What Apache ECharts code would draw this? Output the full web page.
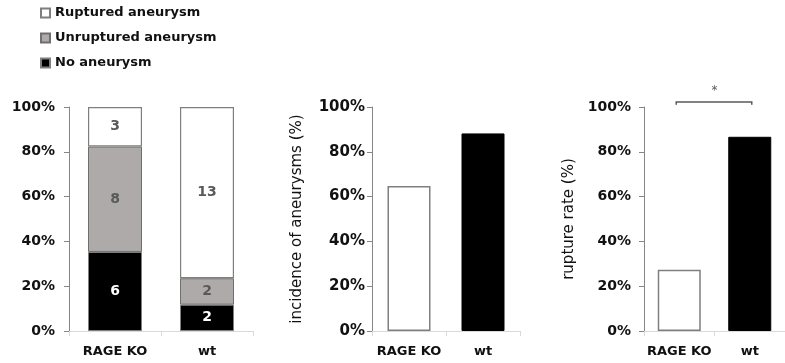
<!DOCTYPE html>
<html>
<head>
<meta charset="utf-8">
<script src="https://cdn.jsdelivr.net/npm/echarts@6/dist/echarts.min.js"></script>
<style>
html,body{margin:0;padding:0;background:#fff;}
#c{width:785px;height:363px;}
</style>
</head>
<body>
<div id="c"></div>
<script>
// ---- data ----
var groups = ['RAGE KO', 'wt'];
var countNone = [6, 2];
var countUnruptured = [8, 2];
var countRuptured = [3, 13];
var incidence = [64.7, 88.2];      // % incidence of aneurysms
var ruptureRate = [27.3, 86.7];    // % rupture rate
var yTicks = [0, 20, 40, 60, 80, 100];
var legendNames = ['Ruptured aneurysm', 'Unruptured aneurysm', 'No aneurysm'];
var sigMark = '*';

// ---- derived ----
var totals = groups.map(function (g, i) { return countNone[i] + countUnruptured[i] + countRuptured[i]; });
function pct(arr) { return arr.map(function (v, i) { return v / totals[i] * 100; }); }

var FONT = 'DejaVu Sans';
var chart = echarts.init(document.getElementById('c'));

function yAxisDef(gridIndex, labelSize, margin, name, nameGap) {
  return {
    type: 'value', gridIndex: gridIndex, min: yTicks[0], max: yTicks[yTicks.length - 1], interval: yTicks[1] - yTicks[0],
    axisLine: { show: true, lineStyle: { color: '#868686', width: 1 } },
    axisTick: { show: true, length: 5, lineStyle: { color: '#868686' } },
    splitLine: { show: false },
    axisLabel: { formatter: '{value}%', fontFamily: FONT, fontWeight: 'bold', fontSize: labelSize, color: '#111', margin: margin },
    name: name || '', nameLocation: 'middle', nameRotate: 90, nameGap: nameGap || 0,
    nameTextStyle: { fontFamily: FONT, fontSize: 15, color: '#111' }
  };
}
function xAxisDef(gridIndex) {
  return {
    type: 'category', gridIndex: gridIndex, data: groups,
    axisLine: { show: true, lineStyle: { color: '#d9d9d9', width: 1 } },
    axisTick: { show: true, length: 5, lineStyle: { color: '#d9d9d9' } },
    axisLabel: { interval: 0, fontFamily: FONT, fontWeight: 'bold', fontSize: 13, color: '#111', margin: 14 }
  };
}

var segBorder = '#7f7f7f';
function stackLabel(counts, color) {
  return {
    show: true, position: 'inside', fontFamily: FONT, fontWeight: 'bold', fontSize: 14, color: color,
    formatter: function (p) { return String(counts[p.dataIndex]); }
  };
}

var option = {
  animation: false,
  backgroundColor: '#fff',
  legend: {
    orient: 'vertical', left: 40, top: 5, padding: 0,
    itemWidth: 9, itemHeight: 9, itemGap: 9,
    data: legendNames,
    icon: 'rect',
    textStyle: { fontFamily: FONT, fontWeight: 'bold', fontSize: 13, color: '#111', lineHeight: 16 },
    selectedMode: false
  },
  grid: [
    { left: 69, top: 107, width: 184, height: 224 },
    { left: 372, top: 107, width: 148, height: 224 },
    { left: 644, top: 107, width: 148, height: 224 }
  ],
  xAxis: [xAxisDef(0), xAxisDef(1), xAxisDef(2)],
  yAxis: [
    yAxisDef(0, 14, 14),
    yAxisDef(1, 15, 7, 'incidence of aneurysms (%)', 67),
    yAxisDef(2, 14, 13, 'rupture rate (%)', 67)
  ],
  series: [
    {
      name: 'No aneurysm', type: 'bar', stack: 'a', xAxisIndex: 0, yAxisIndex: 0, barWidth: 54,
      data: pct(countNone),
      itemStyle: { color: '#000000', borderColor: segBorder, borderWidth: 1 },
      label: stackLabel(countNone, '#ffffff')
    },
    {
      name: 'Unruptured aneurysm', type: 'bar', stack: 'a', xAxisIndex: 0, yAxisIndex: 0, barWidth: 54,
      data: pct(countUnruptured),
      itemStyle: { color: '#aeaaaa', borderColor: '#6f6f6f', borderWidth: 1 },
      label: stackLabel(countUnruptured, '#595959')
    },
    {
      name: 'Ruptured aneurysm', type: 'bar', stack: 'a', xAxisIndex: 0, yAxisIndex: 0, barWidth: 54,
      data: pct(countRuptured),
      itemStyle: { color: '#ffffff', borderColor: segBorder, borderWidth: 1.2 },
      label: stackLabel(countRuptured, '#595959')
    },
    {
      name: 'incidence', type: 'bar', xAxisIndex: 1, yAxisIndex: 1, barWidth: 43,
      data: incidence.map(function (v, i) {
        return { value: v, itemStyle: i === 0 ? { color: '#ffffff', borderColor: segBorder, borderWidth: 1.5 } : { color: '#000000', borderColor: '#000', borderWidth: 1 } };
      })
    },
    {
      name: 'rupture', type: 'bar', xAxisIndex: 2, yAxisIndex: 2, barWidth: 43,
      data: ruptureRate.map(function (v, i) {
        return { value: v, itemStyle: i === 0 ? { color: '#ffffff', borderColor: segBorder, borderWidth: 1.5 } : { color: '#000000', borderColor: '#000', borderWidth: 1 } };
      })
    },
    {
      name: 'sig', type: 'custom', xAxisIndex: 2, yAxisIndex: 2, silent: true,
      data: [[0, 102.2]],
      renderItem: function (params, api) {
        var a = api.coord([0, api.value(1)]);
        var b = api.coord([1, api.value(1)]);
        var tickY = api.coord([0, 101.0])[1];
        var starY = api.coord([0, 107.3])[1];
        return {
          type: 'group',
          children: [
            { type: 'polyline', shape: { points: [[a[0] - 3, tickY], [a[0] - 3, a[1]], [b[0] + 2, b[1]], [b[0] + 2, tickY]] },
              style: { stroke: '#595959', lineWidth: 1.5, fill: null } },
            { type: 'text', style: { text: sigMark, x: (a[0] + b[0]) / 2, y: starY, align: 'center', verticalAlign: 'middle',
              fontFamily: FONT, fontSize: 12, fill: '#595959' } }
          ]
        };
      }
    }
  ]
};
chart.setOption(option);
</script>
</body>
</html>
